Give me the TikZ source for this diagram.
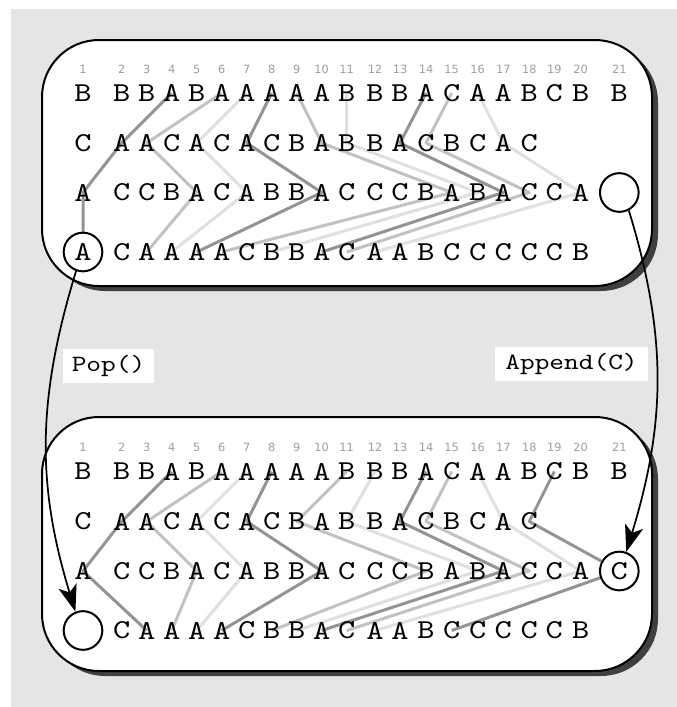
\documentclass[tikz,border=0pt]{standalone}
\usepackage{fontspec}
\setmonofont{lmmono10-regular.otf}[FakeStretch=1.2]
\newfontfamily\numfont{DejaVu Sans}
\usetikzlibrary{arrows.meta, shadows}

\pgfdeclarelayer{back}
\pgfdeclarelayer{lines}
\pgfsetlayers{back,lines,main}

\def\colxs{{83,121.7,146.7,171.7,196.7,221.7,246.7,271.7,296.7,321.7,346.7,375,400,426,451.7,477.7,503.3,529.3,554.3,580.7,619.3}}

\tikzset{
  panel/.style={draw, line width=1.5pt, fill=white, rounded corners=42.75pt,
    drop shadow={shadow xshift=4.5pt, shadow yshift=-3.75pt, fill=black!75, opacity=1}},
  letter/.style={font=\ttfamily\fontsize{20.5}{20.5}\selectfont, inner sep=0pt},
  colnum/.style={font=\numfont\fontsize{8.5}{8.5}\selectfont, text=black!38, inner sep=0pt},
  ring/.style={letter, circle, draw, line width=1.5pt, fill=white, minimum size=29pt},
  darkln/.style={draw=black!42, line width=2.25pt, line join=round},
  midln/.style={draw=black!24, line width=2.25pt, line join=round},
  lightln/.style={draw=black!12, line width=2.25pt, line join=round},
  flow/.style={-{Stealth[length=20pt,width=14pt,inset=5pt]}, line width=1.3pt},
  opbox/.style={font=\ttfamily\fontsize{17.5}{17.5}\selectfont, fill=white, inner sep=0pt, minimum height=25.5pt}
}

\begin{document}
\begin{tikzpicture}[x=0.75pt,y=0.75pt]
\useasboundingbox (0,0) rectangle (677,-707);
\begin{pgfonlayer}{back}
  \fill[black!10] (11,-9) rectangle (677,-707);
  \draw[panel] (42,-40) rectangle (652,-286);
  \draw[panel] (42,-417) rectangle (652,-671);
\end{pgfonlayer}

\foreach \bx/\dy in {t/0,b/378.5} {
  \foreach \c in {1,...,21} {
    \pgfmathsetmacro\cx{\colxs[\c-1]}
    \node[colnum] (\bx n\c) at (\cx,-69-\dy) {\c};
  }
  \foreach \ch [count=\c] in {B,B,B,A,B,A,A,A,A,A,B,B,B,A,C,A,A,B,C,B,B} {
    \pgfmathsetmacro\cx{\colxs[\c-1]}
    \node[letter] (\bx-\c-1) at (\cx,-93-\dy) {\ch};
  }
  \foreach \ch [count=\c] in {C,A,A,C,A,C,A,C,B,A,B,B,A,C,B,C,A,C} {
    \pgfmathsetmacro\cx{\colxs[\c-1]}
    \node[letter] (\bx-\c-2) at (\cx,-143-\dy) {\ch};
  }
  \foreach \ch [count=\c] in {A,C,C,B,A,C,A,B,B,A,C,C,C,B,A,B,A,C,C,A} {
    \pgfmathsetmacro\cx{\colxs[\c-1]}
    \node[letter] (\bx-\c-3) at (\cx,-192.5-\dy) {\ch};
  }
  \foreach \ch [count=\c from 2] in {C,A,A,A,A,C,B,B,A,C,A,A,B,C,C,C,C,C,B} {
    \pgfmathsetmacro\cx{\colxs[\c-1]}
    \node[letter] (\bx-\c-4) at (\cx,-252-\dy) {\ch};
  }
}
\node[ring] (t-1-4) at (83,-252) {A};
\node[ring] (t-21-3) at (619.3,-192.5) {};
\node[ring] (b-1-4) at (83,-630.5) {};
\node[ring] (b-21-3) at (619.3,-571) {C};

\begin{pgfonlayer}{lines}
  \draw[darkln] (t-4-1.center) -- (t-2-2.center) -- (t-1-3.center) -- (t-1-4.center);
  \draw[midln] (t-6-1.center) -- (t-3-2.center) -- (t-5-3.center) -- (t-3-4.center);
  \draw[lightln] (t-7-1.center) -- (t-5-2.center) -- (t-7-3.center) -- (t-4-4.center);
  \draw[darkln] (t-8-1.center) -- (t-7-2.center) -- (t-10-3.center) -- (t-5-4.center);
  \draw[midln] (t-9-1.center) -- (t-10-2.center) -- (t-15-3.center) -- (t-6-4.center);
  \draw[lightln] (t-11-1.center) -- (t-11-2.center) -- (t-16-3.center) -- (t-8-4.center);
  \draw[darkln] (t-14-1.center) -- (t-13-2.center) -- (t-17-3.center) -- (t-10-4.center);
  \draw[midln] (t-15-1.center) -- (t-14-2.center) -- (t-18-3.center) -- (t-11-4.center);
  \draw[lightln] (t-16-1.center) -- (t-17-2.center) -- (t-20-3.center) -- (t-12-4.center);

  \draw[darkln] (b-4-1.center) -- (b-2-2.center) -- (b-1-3.center) -- (b-3-4.center);
  \draw[midln] (b-6-1.center) -- (b-3-2.center) -- (b-5-3.center) -- (b-4-4.center);
  \draw[lightln] (b-7-1.center) -- (b-5-2.center) -- (b-7-3.center) -- (b-5-4.center);
  \draw[darkln] (b-8-1.center) -- (b-7-2.center) -- (b-10-3.center) -- (b-6-4.center);
  \draw[midln] (b-11-1.center) -- (b-9-2.center) -- (b-14-3.center) -- (b-8-4.center);
  \draw[lightln] (b-12-1.center) -- (b-11-2.center) -- (b-16-3.center) -- (b-9-4.center);
  \draw[darkln] (b-14-1.center) -- (b-13-2.center) -- (b-17-3.center) -- (b-10-4.center);
  \draw[midln] (b-15-1.center) -- (b-14-2.center) -- (b-18-3.center) -- (b-11-4.center);
  \draw[lightln] (b-16-1.center) -- (b-17-2.center) -- (b-20-3.center) -- (b-12-4.center);
  \draw[darkln] (b-19-1.center) -- (b-18-2.center) -- (b-21-3.center) -- (b-15-4.center);
\end{pgfonlayer}

\node[opbox, minimum width=68pt] (pop) at (108.5,-365.5) {Pop()};
\node[opbox, minimum width=115pt] (append) at (571.5,-363.5) {Append(C)};

\draw[flow] (t-1-4.-110) to[out=-107,in=107] (b-1-4.112);
\draw[flow] (t-21-3.-62) to[out=-73,in=73] (b-21-3.70);
\end{tikzpicture}
\end{document}
